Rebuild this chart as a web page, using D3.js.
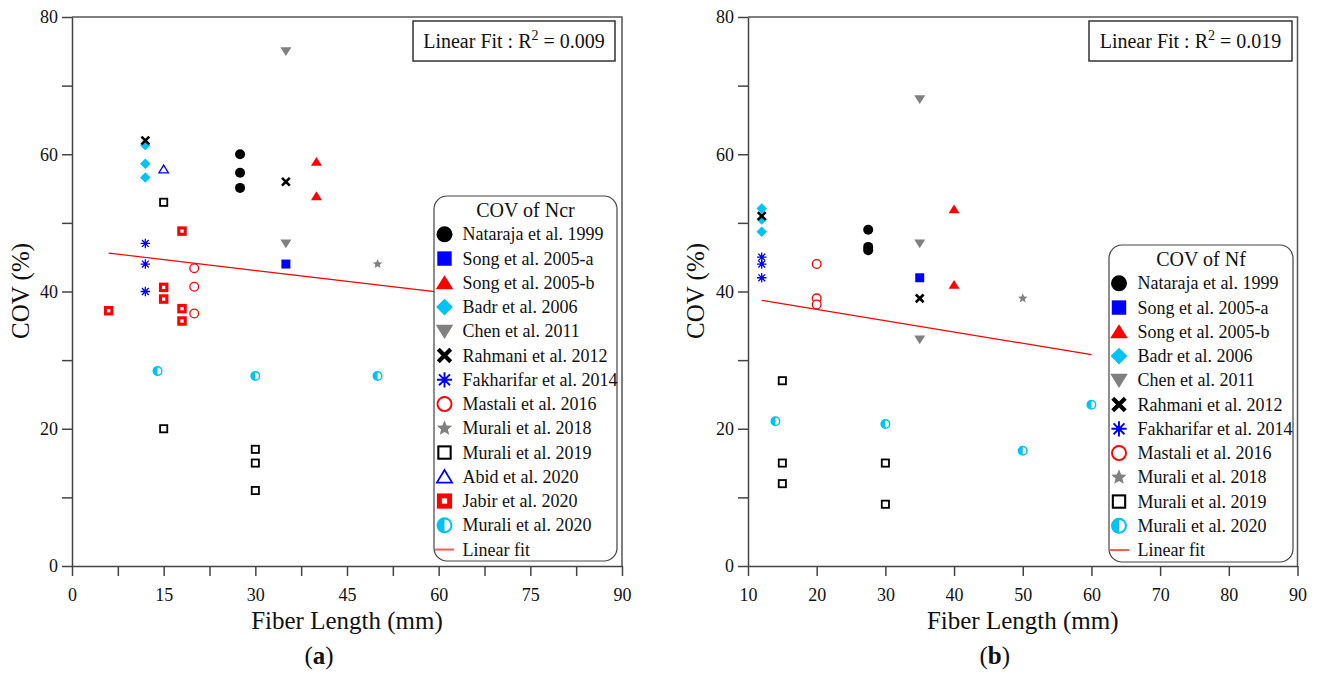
<!DOCTYPE html>
<html><head><meta charset="utf-8">
<script src="https://cdn.jsdelivr.net/npm/d3@7"></script>
<style>
body{margin:0;background:#fff}
svg text{font-family:"Liberation Serif","Times New Roman",serif;fill:#111}
</style>
</head><body>
<svg id="chart" width="1322" height="675"></svg>
<script>
// ---------------- DATA ----------------
const studyNames = ["Nataraja et al. 1999","Song et al. 2005-a","Song et al. 2005-b","Badr et al. 2006","Chen et al. 2011","Rahmani et al. 2012","Fakharifar et al. 2014","Mastali et al. 2016","Murali et al. 2018","Murali et al. 2019","Abid et al. 2020","Jabir et al. 2020","Murali et al. 2020"];

// Panel (a): COV of Ncr  — [fiber length (mm), COV (%)]
const ncrNataraja   = [[27.5,60.0],[27.5,57.3],[27.5,55.1]];
const ncrSongA      = [[35,44.0]];
const ncrSongB      = [[40,58.9],[40,53.9]];
const ncrBadr       = [[12,61.3],[12,58.6],[12,56.6]];
const ncrChen       = [[35,75.0],[35,47.0]];
const ncrRahmani    = [[12,62.0],[35,56.0]];
const ncrFakharifar = [[12,47.0],[12,44.0],[12,40.0]];
const ncrMastali    = [[20,43.4],[20,40.7],[20,36.8]];
const ncrMurali2018 = [[50,44.0]];
const ncrMurali2019 = [[15,53.0],[15,20.0],[30,17.0],[30,15.0],[30,11.0]];
const ncrAbid       = [[15,57.8]];
const ncrJabir      = [[6,37.2],[15,40.6],[15,38.9],[18,48.8],[18,37.5],[18,35.7]];
const ncrMurali2020 = [[14,28.4],[30,27.7],[50,27.7],[60,31.7]];
const ncrFit        = [[6,45.6],[60,39.9]];
const ncrR2 = "0.009";

// Panel (b): COV of Nf
const nfNataraja   = [[27.5,49.0],[27.5,46.5],[27.5,46.0]];
const nfSongA      = [[35,42.0]];
const nfSongB      = [[40,52.0],[40,41.0]];
const nfBadr       = [[12,52.1],[12,50.5],[12,48.7]];
const nfChen       = [[35,68.0],[35,47.0],[35,33.0]];
const nfRahmani    = [[12,51.0],[35,39.0]];
const nfFakharifar = [[12,45.0],[12,44.0],[12,42.0]];
const nfMastali    = [[20,44.0],[20,39.0],[20,38.1]];
const nfMurali2018 = [[50,39.0]];
const nfMurali2019 = [[15,27.0],[15,15.0],[15,12.0],[30,15.0],[30,9.0]];
const nfMurali2020 = [[14,21.1],[30,20.7],[50,16.8],[60,23.5]];
const nfFit        = [[12,38.7],[60,30.8]];
const nfR2 = "0.019";

// Ticks
const yTicks   = [0,10,20,30,40,50,60,70,80];
const yLabels  = [0,20,40,60,80];
const xTicksA  = [0,7.5,15,22.5,30,37.5,45,52.5,60,67.5,75,82.5,90];
const xLabelsA = [0,15,30,45,60,75,90];
const xTicksB  = [10,20,30,40,50,60,70,80,90];
const xLabelsB = [10,20,30,40,50,60,70,80,90];

// ---------------- STYLE ----------------
const CY = "#00c3f5", BL = "#0000ff", RD = "#ff0000", GR = "#808080", BK = "#000";
const symbolOf = {
  "Nataraja et al. 1999":"circle","Song et al. 2005-a":"square","Song et al. 2005-b":"triUp",
  "Badr et al. 2006":"diamond","Chen et al. 2011":"triDown","Rahmani et al. 2012":"x",
  "Fakharifar et al. 2014":"asterisk","Mastali et al. 2016":"openCircle","Murali et al. 2018":"star",
  "Murali et al. 2019":"openSquare","Abid et al. 2020":"openTri","Jabir et al. 2020":"jabir",
  "Murali et al. 2020":"half"
};

function drawSymbol(g, type, cx, cy, s) {
  const t = g.append("g").attr("transform", `translate(${cx},${cy})`);
  const r = s/2;
  switch(type){
    case "circle": t.append("circle").attr("r", r).attr("fill", BK); break;
    case "square": t.append("rect").attr("x",-r*0.9).attr("y",-r*0.9).attr("width",s*0.9).attr("height",s*0.9).attr("fill",BL); break;
    case "triUp": { const w=r*1.1,h=r*0.95; t.append("path").attr("d",`M0,${-h}L${w},${h*0.85}L${-w},${h*0.85}Z`).attr("fill",RD); break; }
    case "triDown": { const w=r*1.1,h=r*0.95; t.append("path").attr("d",`M0,${h}L${w},${-h*0.85}L${-w},${-h*0.85}Z`).attr("fill",GR); break; }
    case "diamond": { const d=r*1.05; t.append("path").attr("d",`M0,${-d}L${d},0L0,${d}L${-d},0Z`).attr("fill",CY); break; }
    case "x": { const a=r*0.78; t.append("path").attr("d",`M${-a},${-a}L${a},${a}M${a},${-a}L${-a},${a}`).attr("stroke",BK).attr("stroke-width",s*0.26).attr("fill","none"); break; }
    case "asterisk": { const a=r*0.95, b=a*0.72;
      t.append("path").attr("d",`M0,${-a}V${a}M${-a},0H${a}M${-b},${-b}L${b},${b}M${b},${-b}L${-b},${b}`)
       .attr("stroke",BL).attr("stroke-width",Math.max(1.3,s*0.12)).attr("fill","none");
      t.append("circle").attr("r",r*0.35).attr("fill",BL); break; }
    case "openCircle": { const sw=Math.max(1.3,s*0.12); t.append("circle").attr("r",r-sw/2).attr("fill","#fff").attr("stroke",RD).attr("stroke-width",sw); break; }
    case "star": { const pts=[]; for(let i=0;i<10;i++){const rr=i%2?r*0.45:r*1.0; const ang=-Math.PI/2+i*Math.PI/5; pts.push([rr*Math.cos(ang),rr*Math.sin(ang)]);} 
      t.append("path").attr("d","M"+pts.map(p=>p.join(",")).join("L")+"Z").attr("fill",GR); break; }
    case "openSquare": { const sw=Math.max(1.8,s*0.13); const a=r*0.9-sw/2; t.append("rect").attr("x",-a).attr("y",-a).attr("width",2*a).attr("height",2*a).attr("fill","#fff").attr("stroke",BK).attr("stroke-width",sw); break; }
    case "openTri": { const sw=Math.max(1.3,s*0.11); const w=r*0.95,h=r*0.85; t.append("path").attr("d",`M0,${-h}L${w},${h*0.85}L${-w},${h*0.85}Z`).attr("fill","#fff").attr("stroke",BL).attr("stroke-width",sw).attr("stroke-linejoin","miter"); break; }
    case "jabir": { const outer=s*0.95, inner=s*0.33; const sw=(outer-inner)/2; const a=(outer+inner)/4;
      t.append("rect").attr("x",-a).attr("y",-a).attr("width",2*a).attr("height",2*a).attr("fill","#fff").attr("stroke",RD).attr("stroke-width",sw); break; }
    case "half": { const sw=Math.max(1.5,s*0.13); const rr=r-sw/2;
      t.append("circle").attr("r",rr).attr("fill","#fff").attr("stroke",CY).attr("stroke-width",sw);
      t.append("path").attr("d",`M0,${-rr}A${rr},${rr} 0 0 0 0,${rr}Z`).attr("fill",CY); break; }
  }
}

const svg = d3.select("#chart");

function panel(cfg){
  const x = d3.scaleLinear().domain(cfg.xDomain).range(cfg.xRange);
  const y = d3.scaleLinear().domain([0,80]).range([566,17]);
  const g = svg.append("g");
  const axisColor = "#444";

  // frame (top and right)
  g.append("path").attr("d",`M${x.range()[0]},${y(80)}H${x.range()[1]}V${y(0)}`)
   .attr("fill","none").attr("stroke","#555").attr("stroke-width",1.5);

  // axes
  const xa = g.append("g").attr("transform",`translate(0,${y(0)})`)
    .call(d3.axisBottom(x).tickValues(cfg.xTicks).tickSize(10).tickSizeOuter(0).tickPadding(12)
      .tickFormat(d => cfg.xLabels.includes(d) ? d : ""));
  const ya = g.append("g").attr("transform",`translate(${x.range()[0]},0)`)
    .call(d3.axisLeft(y).tickValues(yTicks).tickSize(10).tickSizeOuter(0).tickPadding(4)
      .tickFormat(d => yLabels.includes(d) ? d : ""));
  [xa,ya].forEach(a=>{
    a.select(".domain").attr("stroke",axisColor).attr("stroke-width",1.5);
    a.selectAll(".tick line").attr("stroke",axisColor).attr("stroke-width",1.5);
    a.selectAll(".tick text").attr("font-family","Liberation Serif").attr("font-size",18).attr("fill","#222");
  });

  // axis titles
  const xm = (cfg.xRange[0]+cfg.xRange[1])/2;
  g.append("text").attr("x",xm).attr("y",629).attr("text-anchor","middle").attr("font-size",25).text("Fiber Length (mm)");
  const lab = g.append("text").attr("x",xm-28).attr("y",664).attr("text-anchor","middle").attr("font-size",25);
  lab.append("tspan").text("(");
  lab.append("tspan").attr("font-weight","bold").text(cfg.tag);
  lab.append("tspan").text(")");
  g.append("text").attr("transform",`translate(${cfg.yTitleX},291) rotate(-90)`).attr("text-anchor","middle").attr("font-size",25).text("COV (%)");

  // fit line
  g.append("path").attr("d", d3.line().x(d=>x(d[0])).y(d=>y(d[1]))(cfg.fit))
    .attr("stroke",RD).attr("stroke-width",1.2).attr("fill","none");

  // points
  cfg.series.forEach(sr=>{
    sr.data.forEach(d=> drawSymbol(g, symbolOf[sr.name], x(d[0]), y(d[1]), 10));
  });

  // R2 box
  const b = cfg.r2Box;
  g.append("rect").attr("x",b[0]).attr("y",b[1]).attr("width",b[2]).attr("height",b[3])
    .attr("fill","#fff").attr("stroke","#333").attr("stroke-width",1.5);
  const rt = g.append("text").attr("x",b[0]+b[2]/2).attr("y",b[1]+27).attr("text-anchor","middle").attr("font-size",20);
  rt.append("tspan").text("Linear Fit : R");
  rt.append("tspan").attr("dy",-8).attr("font-size",14).text("2");
  rt.append("tspan").attr("dy",8).text(" = " + cfg.r2);

  // legend
  const L = cfg.legend;
  g.append("rect").attr("x",L.x).attr("y",L.y).attr("width",L.w).attr("height",L.h).attr("rx",13).attr("ry",13)
    .attr("fill","#fff").attr("stroke","#444").attr("stroke-width",1.2);
  g.append("text").attr("x",L.x+L.w/2).attr("y",L.titleY+7).attr("text-anchor","middle").attr("font-size",20).text(cfg.legendTitle);
  const items = cfg.series.map(s=>s.name).concat(["Linear fit"]);
  items.forEach((nm,i)=>{
    const yy = L.row0 + i*24.25;
    if(nm==="Linear fit"){
      g.append("line").attr("x1",L.x+1).attr("x2",L.x+20).attr("y1",yy).attr("y2",yy).attr("stroke","#ff5a5a").attr("stroke-width",2);
    } else {
      drawSymbol(g, symbolOf[nm], L.symX, yy, 16);
    }
    g.append("text").attr("x",L.textX).attr("y",yy+6).attr("font-size",18).text(nm);
  });
}

panel({
  tag:"a", xDomain:[0,90], xRange:[72,622], xTicks:xTicksA, xLabels:xLabelsA, yTitleX:29,
  fit:ncrFit, r2:ncrR2, r2Box:[413,21,202,40], legendTitle:"COV of Ncr",
  legend:{x:434,y:196,w:183,h:365,titleY:210,row0:234.3,symX:444.5,textX:462.5},
  series:[
    {name:studyNames[0],data:ncrNataraja},{name:studyNames[1],data:ncrSongA},{name:studyNames[2],data:ncrSongB},
    {name:studyNames[3],data:ncrBadr},{name:studyNames[4],data:ncrChen},{name:studyNames[5],data:ncrRahmani},
    {name:studyNames[6],data:ncrFakharifar},{name:studyNames[7],data:ncrMastali},{name:studyNames[8],data:ncrMurali2018},
    {name:studyNames[9],data:ncrMurali2019},{name:studyNames[10],data:ncrAbid},{name:studyNames[11],data:ncrJabir},
    {name:studyNames[12],data:ncrMurali2020}
  ]
});

panel({
  tag:"b", xDomain:[10,90], xRange:[748,1297.5], xTicks:xTicksB, xLabels:xLabelsB, yTitleX:704,
  fit:nfFit, r2:nfR2, r2Box:[1089,21,203,40], legendTitle:"COV of Nf",
  legend:{x:1109,y:245,w:184,h:317,titleY:259.3,row0:283.3,symX:1119,textX:1137.5},
  series:[
    {name:studyNames[0],data:nfNataraja},{name:studyNames[1],data:nfSongA},{name:studyNames[2],data:nfSongB},
    {name:studyNames[3],data:nfBadr},{name:studyNames[4],data:nfChen},{name:studyNames[5],data:nfRahmani},
    {name:studyNames[6],data:nfFakharifar},{name:studyNames[7],data:nfMastali},{name:studyNames[8],data:nfMurali2018},
    {name:studyNames[9],data:nfMurali2019},{name:studyNames[12],data:nfMurali2020}
  ]
});
</script>
</body></html>
